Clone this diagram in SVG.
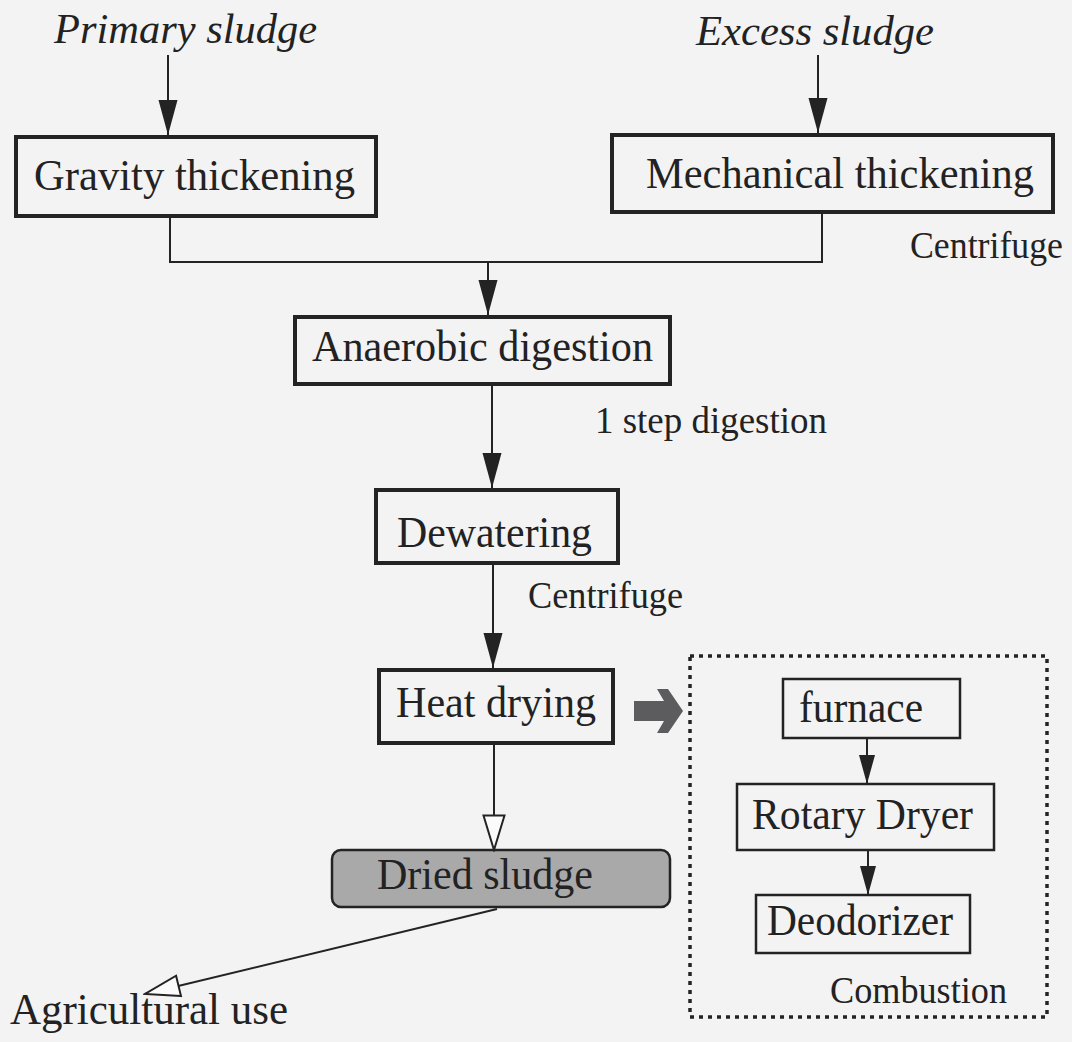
<svg xmlns="http://www.w3.org/2000/svg" width="1072" height="1042" viewBox="0 0 1072 1042">
  <style>
    .bg { fill: #f3f3f4; }
    .box { fill: none; stroke: #232323; stroke-width: 4; }
    .sub { fill: none; stroke: #232323; stroke-width: 2.5; }
    .lbl { font-family: "Liberation Serif", "Times New Roman", serif; font-size: 45px; fill: #222; }
    .sm { font-family: "Liberation Serif", "Times New Roman", serif; font-size: 37px; fill: #222; }
    .src { font-family: "Liberation Serif", "Times New Roman", serif; font-size: 42px; font-style: italic; fill: #222; }
    .wire { fill: none; stroke: #232323; stroke-width: 2; }
  </style>
  <defs>
    <marker id="head" markerUnits="userSpaceOnUse" markerWidth="36" markerHeight="20" refX="35" refY="10" orient="auto">
      <path d="M0,0.5 L35,10 L0,19.5 Z" fill="#232323"/>
    </marker>
    <marker id="headSm" markerUnits="userSpaceOnUse" markerWidth="30" markerHeight="18" refX="29" refY="9" orient="auto">
      <path d="M0,1 L29,9 L0,17 Z" fill="#232323"/>
    </marker>
    <marker id="openHead" markerUnits="userSpaceOnUse" markerWidth="38" markerHeight="24" refX="36" refY="12" orient="auto">
      <path d="M1.5,1.5 L36,12 L1.5,22.5 Z" fill="#fbfbfb" stroke="#232323" stroke-width="2"/>
    </marker>
  </defs>

  <rect class="bg" x="0" y="0" width="1072" height="1042"/>

  <!-- sources -->
  <text class="src" x="54" y="43" textLength="263" lengthAdjust="spacingAndGlyphs">Primary sludge</text>
  <text class="src" x="696" y="45" textLength="238" lengthAdjust="spacingAndGlyphs">Excess sludge</text>

  <!-- process nodes -->
  <g id="gravity-thickening">
    <rect class="box" x="16" y="137" width="360" height="79"/>
    <text class="lbl" x="34" y="190" textLength="321" lengthAdjust="spacingAndGlyphs">Gravity thickening</text>
  </g>
  <g id="mechanical-thickening">
    <rect class="box" x="612" y="135" width="441" height="77"/>
    <text class="lbl" x="646" y="188" textLength="388" lengthAdjust="spacingAndGlyphs">Mechanical thickening</text>
    <text class="sm" x="910" y="258" textLength="153" lengthAdjust="spacingAndGlyphs">Centrifuge</text>
  </g>
  <g id="anaerobic-digestion">
    <rect class="box" x="295" y="317" width="375" height="67"/>
    <text class="lbl" x="312" y="361" textLength="341" lengthAdjust="spacingAndGlyphs">Anaerobic digestion</text>
    <text class="sm" x="595" y="433" textLength="232" lengthAdjust="spacingAndGlyphs">1 step digestion</text>
  </g>
  <g id="dewatering">
    <rect class="box" x="376" y="490" width="242" height="73"/>
    <text class="lbl" x="397" y="547" textLength="195" lengthAdjust="spacingAndGlyphs">Dewatering</text>
    <text class="sm" x="528" y="608" textLength="155" lengthAdjust="spacingAndGlyphs">Centrifuge</text>
  </g>
  <g id="heat-drying">
    <rect class="box" x="379" y="670" width="234" height="73"/>
    <text class="lbl" x="396" y="717" textLength="200" lengthAdjust="spacingAndGlyphs">Heat drying</text>
  </g>
  <g id="dried-sludge">
    <rect x="332" y="850" width="338" height="57" rx="9" ry="9" fill="#a9a9aa" stroke="#232323" stroke-width="2.5"/>
    <text class="lbl" x="377" y="889" textLength="216" lengthAdjust="spacingAndGlyphs">Dried sludge</text>
  </g>
  <g id="agricultural-use">
    <text class="lbl" x="10" y="1024" font-size="47" textLength="278" lengthAdjust="spacingAndGlyphs">Agricultural use</text>
  </g>

  <!-- combustion unit -->
  <g id="combustion">
    <rect x="690" y="656" width="357" height="361" fill="none" stroke="#232323" stroke-width="3.5" stroke-dasharray="4 5"/>
    <text class="sm" x="830" y="1003" textLength="177" lengthAdjust="spacingAndGlyphs">Combustion</text>
  </g>
  <g id="furnace">
    <rect class="sub" x="783" y="679" width="177" height="59"/>
    <text class="lbl" x="799" y="722" font-size="42" textLength="124" lengthAdjust="spacingAndGlyphs">furnace</text>
  </g>
  <g id="rotary-dryer">
    <rect class="sub" x="737" y="784" width="257" height="66"/>
    <text class="lbl" x="752" y="829" font-size="40" textLength="221" lengthAdjust="spacingAndGlyphs">Rotary Dryer</text>
  </g>
  <g id="deodorizer">
    <rect class="sub" x="756" y="895" width="214" height="58"/>
    <text class="lbl" x="767" y="935" font-size="40" textLength="186" lengthAdjust="spacingAndGlyphs">Deodorizer</text>
  </g>

  <!-- connectors -->
  <g id="connectors">
    <line class="wire" x1="168" y1="55" x2="168" y2="135" marker-end="url(#head)"/>
    <line class="wire" x1="818" y1="55" x2="818" y2="133" marker-end="url(#head)"/>
    <polyline class="wire" points="170,218 170,262 822,262 822,214"/>
    <line class="wire" x1="488" y1="262" x2="488" y2="315" marker-end="url(#head)"/>
    <line class="wire" x1="492" y1="386" x2="492" y2="488" marker-end="url(#head)"/>
    <line class="wire" x1="493" y1="565" x2="493" y2="668" marker-end="url(#head)"/>
    <line class="wire" x1="494" y1="745" x2="494" y2="850" marker-end="url(#openHead)"/>
    <line class="wire" x1="497" y1="909" x2="145" y2="994" marker-end="url(#openHead)"/>
    <line class="wire" x1="867" y1="739" x2="867" y2="784" marker-end="url(#headSm)"/>
    <line class="wire" x1="868" y1="851" x2="868" y2="895" marker-end="url(#headSm)"/>
    <!-- block arrow into the combustion unit -->
    <polygon points="634,701 664,701 657,689 668,689 683,711 668,733 657,733 664,721 634,721" fill="#5c5c5e"/>
  </g>
</svg>
